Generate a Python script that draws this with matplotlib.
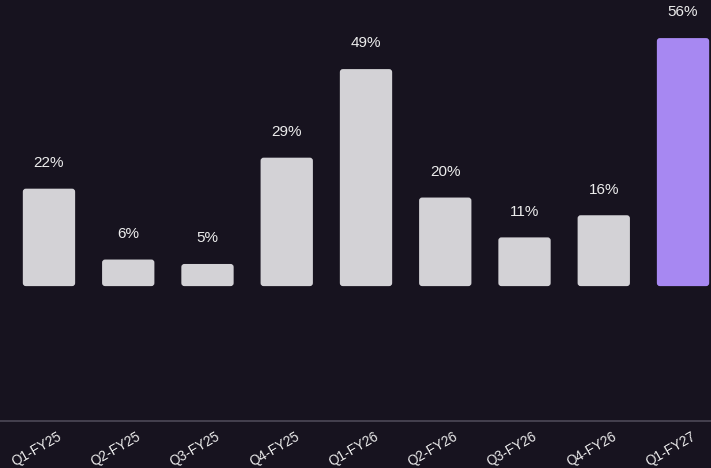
import matplotlib
matplotlib.use("Agg")
import matplotlib.pyplot as plt
from matplotlib.patches import FancyBboxPatch
from matplotlib.transforms import ScaledTranslation

quarters = ["Q1-FY25", "Q2-FY25", "Q3-FY25", "Q4-FY25", "Q1-FY26",
            "Q2-FY26", "Q3-FY26", "Q4-FY26", "Q1-FY27"]
growth = [22, 6, 5, 29, 49, 20, 11, 16, 56]

BG = "#17131f"
GREY = "#d3d2d6"
PURPLE = "#a788f2"
TEXT = "#ececec"

plt.rcParams["font.family"] = ["Liberation Sans", "DejaVu Sans"]

fig = plt.figure(figsize=(7.11, 4.68), dpi=100, facecolor=BG)
ax = fig.add_axes([0, 0.1, 1, 0.9], facecolor=BG)

colors = [GREY] * (len(growth) - 1) + [PURPLE]
x = list(range(len(growth)))
bars = ax.bar(x, growth, width=0.66, color=colors)

ax.set_xlim(-0.618, 8.353)
ax.set_ylim(-30.5, 64.6)

# swap the plain rectangles for ones with softened corners
px_x = 79.25
px_y = 4.43
aspect = px_x / px_y
for b in bars:
    b.set_visible(False)
    r = 3.0 / px_x
    fb = FancyBboxPatch((b.get_x() + r, b.get_y() + r * aspect),
                        b.get_width() - 2 * r, b.get_height() - 2 * r * aspect,
                        boxstyle=f"round,pad={r},rounding_size={r}",
                        mutation_aspect=aspect,
                        facecolor=b.get_facecolor(), edgecolor="none")
    ax.add_patch(fb)

for xi, v in zip(x, growth):
    ax.annotate(f"{v}%", (xi, v), xytext=(0, 18.5), textcoords="offset points",
                ha="center", va="center", color=TEXT, fontsize=11)

for s in ["top", "left", "right"]:
    ax.spines[s].set_visible(False)
ax.spines["bottom"].set_position(("data", -30.5))
ax.spines["bottom"].set_color("#4d4957")
ax.spines["bottom"].set_linewidth(1.2)

ax.set_yticks([])
ax.set_xticks(x)
ax.set_xticklabels(quarters, rotation=30, ha="right", va="top",
                   rotation_mode="anchor", color=TEXT, fontsize=9.8)
ax.tick_params(axis="x", length=0, pad=6)
for lbl in ax.get_xticklabels():
    lbl.set_transform(lbl.get_transform() + ScaledTranslation(0.08, 0, fig.dpi_scale_trans))

fig.savefig("out.png", dpi=100, facecolor=BG)
